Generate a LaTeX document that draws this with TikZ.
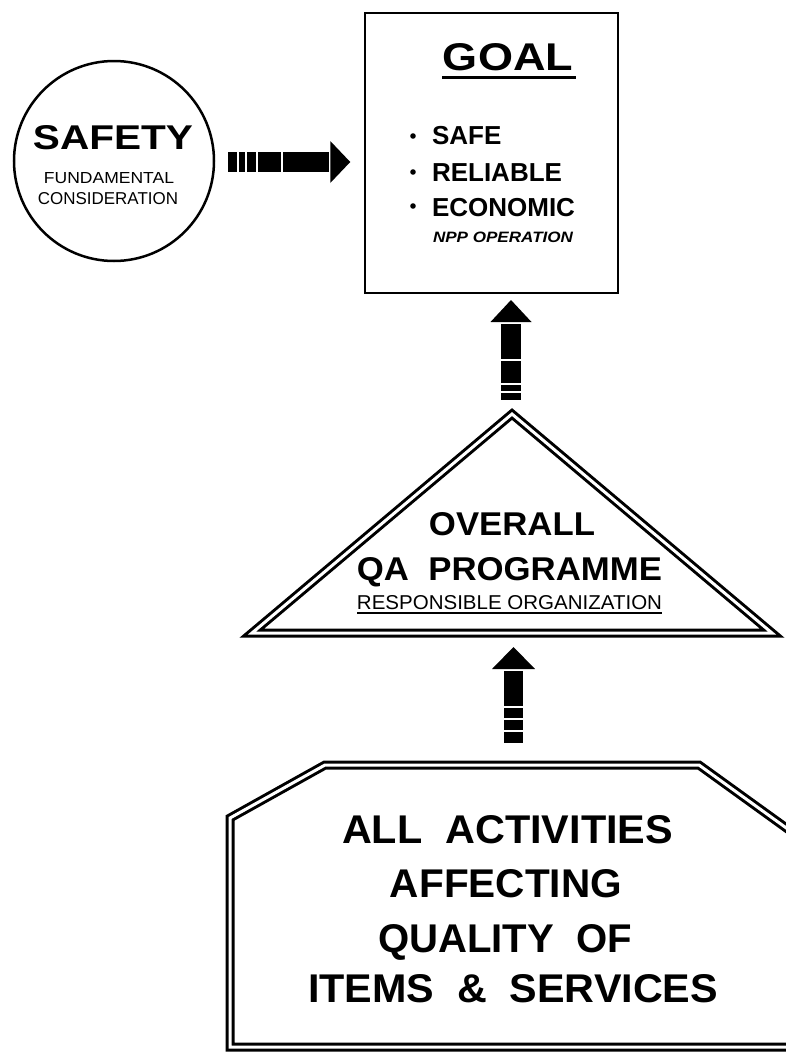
\documentclass[tikz,border=0pt]{standalone}
\usepackage{fontspec}
\setmainfont{Liberation Sans}
\usepackage{graphicx}
\usetikzlibrary{calc}
\newcommand\fitbox[3]{\resizebox{#1pt}{#2pt}{#3}}
% segmented block arrow along local +x
\newcommand\segarrow[5]{%
  \foreach \a/\b in {#1} {\fill (\a,-#4) rectangle (\b,#4);}
  \fill (#2,-#5) -- (#3,0) -- (#2,#5) -- cycle;}
\begin{document}
\begin{tikzpicture}[x=1pt,y=-1pt,
  txt/.style={inner sep=0pt, outer sep=0pt},
  dbl/.style={draw, line width=3pt, double=white, double distance=3pt, line join=miter}]
\useasboundingbox (0,0) rectangle (786,1055);
\clip (0,0) rectangle (786,1055);

% SAFETY circle
\node[circle, draw, line width=2.5pt, minimum size=200pt, inner sep=0pt] (safety) at (114,161) {};
\node[txt, anchor=base] (tsafety) at (113,149) {\fitbox{160}{24}{\bfseries SAFETY}};
\node[txt, anchor=base] (tfund) at (109,183) {\fitbox{130}{11}{FUNDAMENTAL}};
\node[txt, anchor=base] (tcons) at (108,204) {\fitbox{140}{12}{CONSIDERATION}};

% GOAL box
\node[rectangle, draw, line width=2pt, minimum width=253pt, minimum height=280pt, inner sep=0pt] (goal) at (491.5,153) {};
\node[txt, anchor=base] (tgoal) at (508,70) {\fitbox{130}{27}{\bfseries GOAL}};
\draw[line width=3pt] (442,77.5) -- (576,77.5);
\fill (413,136) circle (2.8pt);
\fill (413,172) circle (2.8pt);
\fill (413,206) circle (2.8pt);
\node[txt, anchor=base west] (tsafe) at (432,144) {\fontsize{26pt}{26pt}\selectfont\bfseries SAFE};
\node[txt, anchor=base west] (trel) at (432,181) {\fontsize{26pt}{26pt}\selectfont\bfseries RELIABLE};
\node[txt, anchor=base west] (teco) at (432,216) {\fontsize{26pt}{26pt}\selectfont\bfseries ECONOMIC};
\node[txt, anchor=base west] (tnpp) at (433,242) {\fitbox{140}{10.5}{\bfseries\itshape NPP OPERATION}};

% QA programme triangle
\coordinate (apex) at (512,414);
\coordinate (triL) at (252,633);
\coordinate (triR) at (772,633);
\draw[dbl] (apex) -- (triL) -- (triR) -- cycle;
\node[txt, anchor=base] (tover) at (512,535) {\fitbox{166}{23}{\bfseries OVERALL}};
\node[txt, anchor=base] (tqa) at (509.5,580) {\fitbox{305}{23}{\bfseries QA\ \ PROGRAMME}};
\node[txt, anchor=base] (tresp) at (509.5,609) {\fitbox{305}{14}{RESPONSIBLE ORGANIZATION}};
\draw[line width=1.6pt] (357,613) -- (662,613);

% activities shape
\coordinate (actTop) at (513.5,765);
\draw[dbl] (230,818) -- (325,765) -- (699,765) -- (900,910) -- (900,1047) -- (230,1047) -- cycle;
\node[txt, anchor=base] (tl1) at (507.5,843) {\fitbox{331}{28}{\bfseries ALL\ \ ACTIVITIES}};
\node[txt, anchor=base] (tl2) at (506,897) {\fitbox{232}{28}{\bfseries AFFECTING}};
\node[txt, anchor=base] (tl3) at (505,952) {\fitbox{254}{28}{\bfseries QUALITY\ \ OF}};
\node[txt, anchor=base] (tl4) at (513,1002) {\fitbox{410}{28}{\bfseries ITEMS\ \ \&\ \ SERVICES}};

% arrows
\begin{scope}[shift={($(safety.east)+(13,1)$)}]
  \segarrow{0/8.5,10.5/17,19/28,30/53,55/101}{102}{122}{10}{21}
\end{scope}
\begin{scope}[shift={($(apex)+(-1,-14)$)}, rotate=90]
  \segarrow{0/7,9/15,17/39,41/76.5}{78}{100}{10}{20.5}
\end{scope}
\begin{scope}[shift={($(actTop)+(0,-22)$)}, rotate=90]
  \segarrow{0/11,13/23,25/35,37/72.5}{74}{96}{9.5}{21.5}
\end{scope}
\end{tikzpicture}
\end{document}
